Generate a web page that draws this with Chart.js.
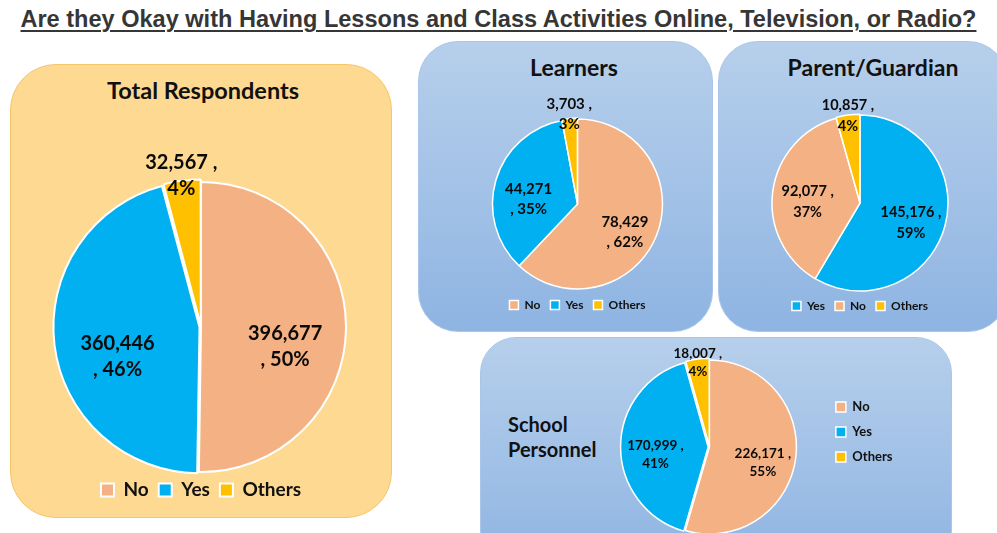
<!DOCTYPE html>
<html>
<head>
<meta charset="utf-8">
<script src="https://cdn.jsdelivr.net/npm/chart.js@4/dist/chart.umd.min.js"></script>
<style>
  html, body { margin: 0; padding: 0; background: #ffffff; }
  body { width: 997px; height: 533px; position: relative; overflow: hidden; font-family: Lato, "Open Sans", sans-serif; }
  #mainTitle { position: absolute; left: 0; top: 5px; width: 997px; text-align: center; white-space: nowrap; }
  #mainTitle span { display: inline-block; font-family: "Liberation Sans Narrow", "Liberation Sans", Arial, sans-serif; font-weight: bold; font-size: 24px; line-height: 28px; color: #363636; text-decoration: underline; text-decoration-thickness: 2px; text-underline-offset: 3px; transform-origin: 50% 50%; }
  .panel { position: absolute; box-sizing: border-box; }
  .orange { background: #FED992; border: 1px solid #F6C66A; border-radius: 46px; }
  .blue { background: linear-gradient(to bottom, #B6CFEB 0%, #A3C2E7 50%, #8EB4E2 100%); border: 1px solid #A9C6EA; border-radius: 40px; }
  .ptitle { position: absolute; font-weight: bold; color: #111; white-space: nowrap; text-align: center; }
  canvas { position: absolute; }
</style>
</head>
<body>
<div id="mainTitle"><span id="mt">Are they Okay with Having Lessons and Class Activities Online, Television, or Radio?</span></div>

<div class="panel orange" style="left:10px;top:64px;width:382px;height:454px;"></div>
<div class="panel blue" style="left:418px;top:41px;width:295px;height:291px;"></div>
<div class="panel blue" style="left:718px;top:41px;width:290px;height:291px;"></div>
<div class="panel blue" style="left:480px;top:337px;width:472px;height:230px;border-radius:36px;"></div>

<div class="ptitle" style="left:53px;top:75px;width:300px;font-size:23.5px;line-height:30px;">Total Respondents</div>
<div class="ptitle" style="left:424px;top:53px;width:300px;font-size:23px;line-height:28px;">Learners</div>
<div class="ptitle" style="left:723px;top:53px;width:300px;font-size:23px;line-height:28px;">Parent/Guardian</div>
<div class="ptitle" style="left:508px;top:412px;font-size:20px;line-height:25px;text-align:left;">School<br>Personnel</div>

<canvas id="c1" width="382" height="454" style="left:10px;top:64px;"></canvas>
<canvas id="c2" width="295" height="291" style="left:418px;top:41px;"></canvas>
<canvas id="c3" width="279" height="291" style="left:718px;top:41px;"></canvas>
<canvas id="c4" width="472" height="196" style="left:480px;top:337px;"></canvas>

<script>
// ---------------- DATA ----------------
const categoriesTotal = ['No', 'Yes', 'Others'];
const valuesTotal = [396677, 360446, 32567];
const pctTotal = ['50%', '46%', '4%'];

const categoriesLearners = ['No', 'Yes', 'Others'];
const valuesLearners = [78429, 44271, 3703];
const pctLearners = ['62%', '35%', '3%'];

const categoriesParents = ['Yes', 'No', 'Others'];
const valuesParents = [145176, 92077, 10857];
const pctParents = ['59%', '37%', '4%'];

const categoriesSchool = ['No', 'Yes', 'Others'];
const valuesSchool = [226171, 170999, 18007];
const pctSchool = ['55%', '41%', '4%'];

// ---------------- STYLE ----------------
const colorOf = { 'No': '#F4B183', 'Yes': '#00B0F0', 'Others': '#FFC000' };
// label wrap: 'a' => "value ,\npct"   'b' => "value\n, pct"
const wrapTotal = ['b', 'b', 'a'];
const wrapLearners = ['b', 'b', 'a'];
const wrapParents = ['a', 'a', 'a'];
const wrapSchool = ['a', 'a', 'a'];

Chart.defaults.font.family = 'Lato, "Open Sans", sans-serif';
Chart.defaults.color = '#111';

// fit main title width
(function () {
  const s = document.getElementById('mt');
  const w = s.getBoundingClientRect().width;
  if (w > 0) s.style.transform = 'scaleX(' + (956 / w) + ')';
})();

const pieLabels = {
  id: 'pieLabels',
  afterDatasetsDraw(chart, args, opts) {
    const ctx = chart.ctx;
    const meta = chart.getDatasetMeta(0);
    const ds = chart.data.datasets[0];
    ctx.save();
    ctx.font = 'bold ' + opts.size + 'px Lato, "Open Sans", sans-serif';
    ctx.fillStyle = '#0a0a0a';
    ctx.textAlign = 'center';
    ctx.textBaseline = 'middle';
    meta.data.forEach((arc, i) => {
      const p = arc.getProps(['x', 'y', 'startAngle', 'endAngle', 'outerRadius'], true);
      const mid = (p.startAngle + p.endAngle) / 2;
      const share = (p.endAngle - p.startAngle) / (2 * Math.PI);
      const inside = share >= 0.08;
      const r = p.outerRadius * (inside ? opts.inner : opts.outer);
      const cx = p.x + Math.cos(mid) * r;
      const cy = p.y + Math.sin(mid) * r + (inside ? opts.drop * p.outerRadius : 0);
      const v = ds.data[i].toLocaleString('en-US');
      const pc = opts.pct[i];
      const lines = opts.wrap[i] === 'a' ? [v + ' ,', pc] : [v, ', ' + pc];
      const lh = opts.lineHeight;
      lines.forEach((t, k) => {
        ctx.fillText(t, cx, cy + (k - (lines.length - 1) / 2) * lh);
      });
    });
    ctx.restore();
  }
};

function makePie(id, cats, vals, pct, wrap, cfg) {
  return new Chart(document.getElementById(id), {
    type: 'pie',
    data: {
      labels: cats,
      datasets: [{
        data: vals,
        backgroundColor: cats.map(c => colorOf[c]),
        borderColor: '#ffffff',
        borderWidth: cfg.border,
        offset: cfg.offset,
        clip: false
      }]
    },
    options: {
      responsive: false,
      devicePixelRatio: 1,
      animation: false,
      radius: cfg.radius,
      layout: { padding: cfg.padding },
      plugins: {
        tooltip: { enabled: false },
        title: { display: false },
        legend: {
          display: true,
          position: cfg.legendPos,
          align: cfg.legendAlign,
          labels: {
            boxWidth: cfg.box,
            boxHeight: cfg.box,
            padding: cfg.legendPad,
            color: '#111',
            font: { size: cfg.legendFont, weight: 'bold' }
          }
        },
        pieLabels: { size: cfg.labelFont, lineHeight: cfg.labelLH, inner: cfg.inner, outer: cfg.outer, drop: cfg.drop, pct: pct, wrap: wrap }
      }
    },
    plugins: [pieLabels]
  });
}

makePie('c1', categoriesTotal, valuesTotal, pctTotal, wrapTotal, {
  radius: 145, border: 2, offset: [0, 6, 6],
  padding: { top: 119.5, bottom: 8.5, left: 0, right: 0 },
  legendPos: 'bottom', legendAlign: 'center', box: 13, legendPad: 10, legendFont: 19,
  labelFont: 20, labelLH: 26, inner: 0.58, outer: 1.05, drop: 0.13
});

makePie('c2', categoriesLearners, valuesLearners, pctLearners, wrapLearners, {
  radius: 85, border: 1.5, offset: [0, 0, 2],
  padding: { top: 78, bottom: 11, left: 24, right: 0 },
  legendPos: 'bottom', legendAlign: 'center', box: 9, legendPad: 10, legendFont: 12,
  labelFont: 15, labelLH: 20, inner: 0.6, outer: 1.06, drop: 0.11
});

makePie('c3', categoriesParents, valuesParents, pctParents, wrapParents, {
  radius: 88, border: 1.5, offset: [0, 0, 2],
  padding: { top: 75, bottom: 10, left: 5, right: 0 },
  legendPos: 'bottom', legendAlign: 'center', box: 9, legendPad: 10, legendFont: 12,
  labelFont: 14.5, labelLH: 21, inner: 0.6, outer: 1.0, drop: 0.07
});

makePie('c4', categoriesSchool, valuesSchool, pctSchool, wrapSchool, {
  radius: 87, border: 1.5, offset: [0, 5, 4],
  padding: { top: 51.5, bottom: 27.5, left: 115, right: 49.5 },
  legendPos: 'right', legendAlign: 'start', box: 10, legendPad: 12, legendFont: 13,
  labelFont: 13.5, labelLH: 18, inner: 0.62, outer: 0.98, drop: 0.09
});
</script>
</body>
</html>
